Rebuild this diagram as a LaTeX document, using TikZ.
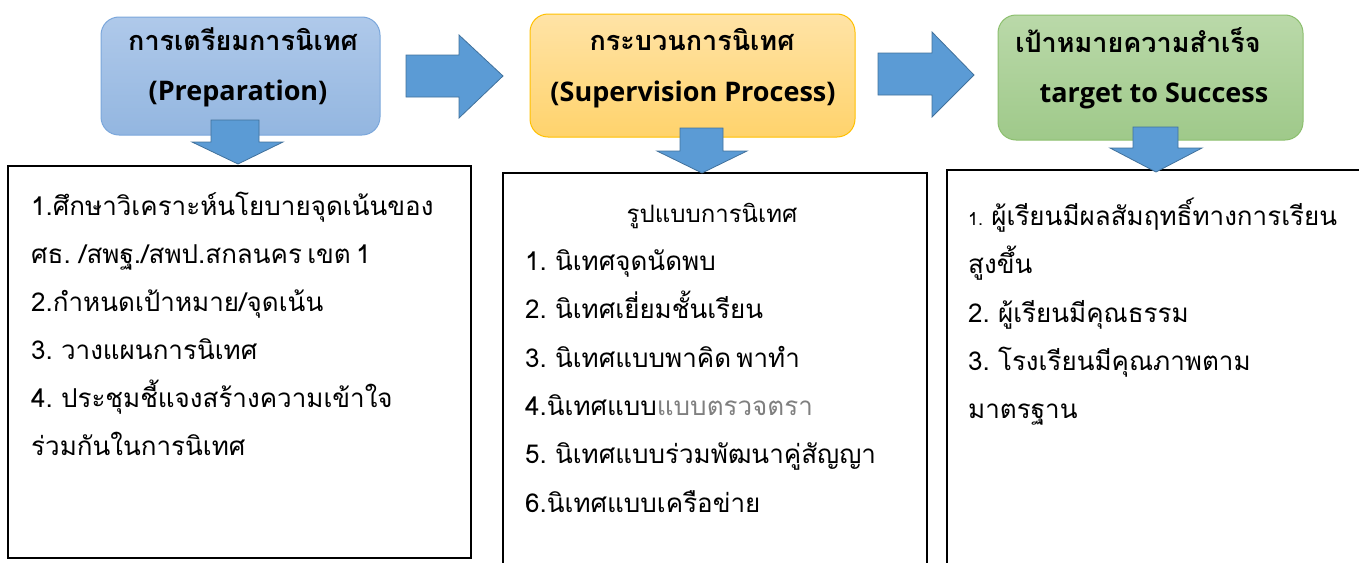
\documentclass[tikz,border=0pt]{standalone}
\usepackage{fontspec}
\setmainfont{Loma}[Script=Thai,WordSpace=0.6]
\newfontfamily\lat{Open Sans}
\definecolor{blueT}{HTML}{AFC9EA}
\definecolor{blueB}{HTML}{93B6E0}
\definecolor{blueD}{HTML}{7BA7DB}
\definecolor{oraT}{HTML}{FFE3A6}
\definecolor{oraB}{HTML}{FFD36C}
\definecolor{oraD}{HTML}{FFC000}
\definecolor{grnT}{HTML}{BAD9A9}
\definecolor{grnB}{HTML}{9FC98A}
\definecolor{grnD}{HTML}{8CBF6E}
\definecolor{arrF}{HTML}{5B9BD5}
\definecolor{arrD}{HTML}{41719C}
\definecolor{grayT}{HTML}{7F7F7F}
\tikzset{
  x=1pt,y=-1pt,
  hbox/.style={rounded corners=18pt,line width=1pt},
  listbox/.style={draw=black,line width=2pt},
  blockarrow/.style={fill=arrF,draw=arrD,line width=0.8pt,line join=miter},
  htext/.style={font=\fontsize{27}{30}\selectfont\bfseries,anchor=base,inner sep=0pt},
  hlat/.style={font=\fontsize{27}{30}\selectfont\lat\bfseries,anchor=base,inner sep=0pt},
  ltext/.style={font=\fontsize{26}{30}\selectfont,anchor=base west,inner sep=0pt},
}
\begin{document}
\begin{tikzpicture}
\useasboundingbox (0,0) rectangle (1359,562);
% header boxes
\shade[hbox,top color=blueT,bottom color=blueB,draw=blueD] (101,17) rectangle (380,135);
\shade[hbox,top color=oraT,bottom color=oraB,draw=oraD] (530,14) rectangle (855,137);
\shade[hbox,top color=grnT,bottom color=grnB,draw=grnD] (998,15) rectangle (1303,140);
\node[htext] (h1a) at (243,50) {การเตรียมการนิเทศ};
\node[hlat] (h1b) at (238,100) {(Preparation)};
\node[htext] (h2a) at (692,50) {กระบวนการนิเทศ};
\node[hlat] (h2b) at (693,101) {(Supervision Process)};
\node[htext] (h3a) at (1138,52) {เป้าหมายความสำเร็จ};
\node[hlat] (h3b) at (1154,102) {target to Success};
% list boxes
\draw[listbox] (8,166) rectangle (471,558);
\draw[listbox] (503,173) rectangle (927,600);
\draw[listbox] (947,170) rectangle (1400,600);
% right arrows
\draw[blockarrow] (406,55) -- (459,55) -- (459,35) -- (503,76) -- (459,118) -- (459,97) -- (406,97) -- cycle;
\draw[blockarrow] (878,53) -- (932,53) -- (932,32) -- (974,75) -- (932,117) -- (932,95) -- (878,95) -- cycle;
% down arrows
\draw[blockarrow] (211,120) -- (259,120) -- (259,142) -- (283,142) -- (238,164) -- (192,142) -- (211,142) -- cycle;
\draw[blockarrow] (680,128) -- (723,128) -- (723,151) -- (747,151) -- (702,173) -- (657,151) -- (680,151) -- cycle;
\draw[blockarrow] (1133,127) -- (1178,127) -- (1178,148) -- (1202,148) -- (1156,172) -- (1110,148) -- (1133,148) -- cycle;
% list A
\node[ltext] (a1) at (31,215) {1.ศึกษาวิเคราะห์นโยบายจุดเน้นของ};
\node[ltext] (a2) at (31,263) {ศธ. /สพฐ./สพป.สกลนคร เขต 1};
\node[ltext] (a3) at (31,311) {2.กำหนดเป้าหมาย/จุดเน้น};
\node[ltext] (a4) at (31,359) {3. วางแผนการนิเทศ};
\node[ltext] (a5) at (31,407) {4. ประชุมชี้แจงสร้างความเข้าใจ};
\node[ltext] (a6) at (31,455) {ร่วมกันในการนิเทศ};
% list B
\node[htext,font=\fontsize{24}{28}\selectfont] (b0) at (712,222) {รูปแบบการนิเทศ};
\node[ltext] (b1) at (525,270) {1. นิเทศจุดนัดพบ};
\node[ltext] (b2) at (525,318) {2. นิเทศเยี่ยมชั้นเรียน};
\node[ltext] (b3) at (525,367) {3. นิเทศแบบพาคิด พาทำ};
\node[ltext] (b4) at (525,415) {4.นิเทศแบบ\textcolor{grayT}{แบบตรวจตรา}};
\node[ltext] (b5) at (525,463) {5. นิเทศแบบร่วมพัฒนาคู่สัญญา};
\node[ltext] (b6) at (525,512) {6.นิเทศแบบเครือข่าย};
% list C
\node[ltext] (c1) at (968,225) {{\fontsize{18}{20}\selectfont 1.} ผู้เรียนมีผลสัมฤทธิ์ทางการเรียน};
\node[ltext] (c2) at (968,273) {สูงขึ้น};
\node[ltext] (c3) at (968,322) {2. ผู้เรียนมีคุณธรรม};
\node[ltext] (c4) at (968,370) {3. โรงเรียนมีคุณภาพตาม};
\node[ltext] (c5) at (968,418) {มาตรฐาน};
\end{tikzpicture}
\end{document}
